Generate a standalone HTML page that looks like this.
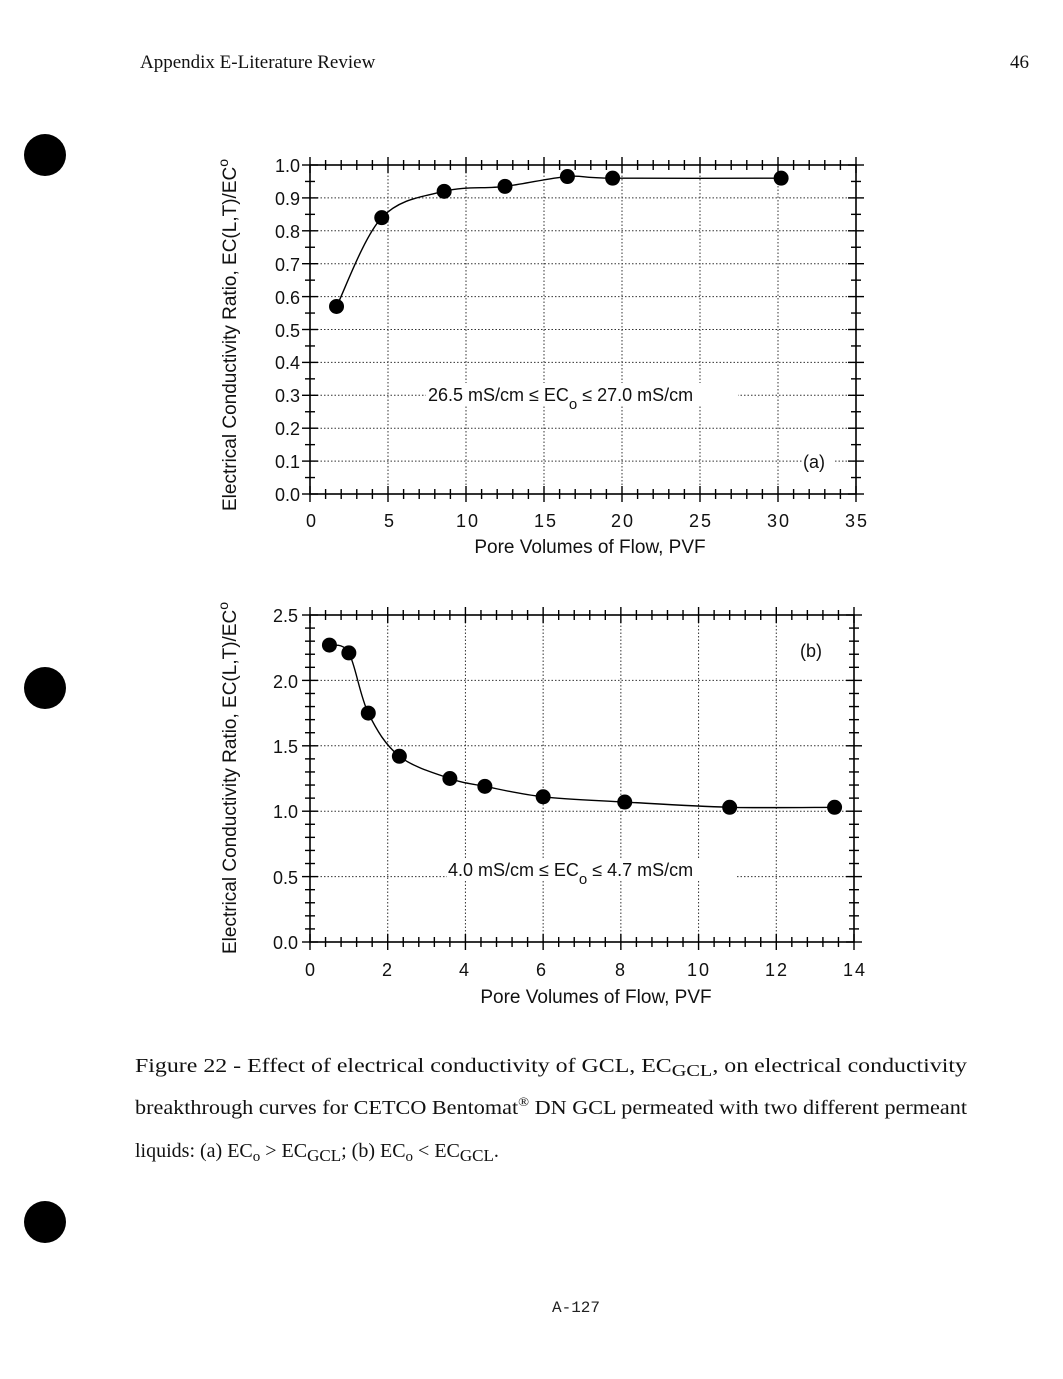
<!DOCTYPE html>
<html><head><meta charset="utf-8"><style>
html,body{margin:0;padding:0;background:#fff;}
svg{display:block}
.h{font-family:"Liberation Serif",serif;font-size:19px;fill:#111}
.c{font-family:"Liberation Serif",serif;font-size:20px;fill:#111}
.t{font-family:"Liberation Sans",sans-serif;font-size:18px;fill:#111}
.a{font-family:"Liberation Sans",sans-serif;font-size:19px;fill:#111}
</style></head><body>
<svg id="s" width="1063" height="1379" viewBox="0 0 1063 1379" xmlns="http://www.w3.org/2000/svg">
<rect width="1063" height="1379" fill="#fff"/>
<text class="h" x="140" y="68">Appendix E-Literature Review</text>
<text class="h" x="1010" y="68">46</text>
<circle cx="45" cy="155" r="21" fill="#000"/>
<circle cx="45" cy="688" r="21" fill="#000"/>
<circle cx="45" cy="1222" r="21" fill="#000"/>
<g id="ga"></g>
<g id="gb"></g>
<g class="t" text-anchor="end">
<text x="300" y="172">1.0</text><text x="300" y="205">0.9</text><text x="300" y="238">0.8</text><text x="300" y="271">0.7</text><text x="300" y="304">0.6</text><text x="300" y="337">0.5</text><text x="300" y="369">0.4</text><text x="300" y="402">0.3</text><text x="300" y="435">0.2</text><text x="300" y="468">0.1</text><text x="300" y="501">0.0</text>
</g>
<g class="t" text-anchor="middle" letter-spacing="2">
<text x="312" y="527">0</text><text x="390" y="527">5</text><text x="468" y="527">10</text><text x="546" y="527">15</text><text x="623" y="527">20</text><text x="701" y="527">25</text><text x="779" y="527">30</text><text x="857" y="527">35</text>
</g>
<text class="a" x="590" y="553" text-anchor="middle">Pore Volumes of Flow, PVF</text>
<text class="a" transform="translate(236,335) rotate(-90)" text-anchor="middle">Electrical Conductivity Ratio, EC(L,T)/EC<tspan dy="-8" font-size="14">o</tspan></text>
<rect x="426" y="383" width="312" height="22" fill="#fff"/>
<text class="t" x="428" y="401">26.5 mS/cm ≤ EC<tspan dy="8" font-size="15">o</tspan><tspan dy="-8"> ≤ 27.0 mS/cm</tspan></text>
<rect x="802" y="451" width="32" height="22" fill="#fff"/>
<text class="t" x="803" y="468">(a)</text>
<g class="t" text-anchor="end">
<text x="298" y="622">2.5</text><text x="298" y="688">2.0</text><text x="298" y="753">1.5</text><text x="298" y="818">1.0</text><text x="298" y="884">0.5</text><text x="298" y="949">0.0</text>
</g>
<g class="t" text-anchor="middle" letter-spacing="2">
<text x="311" y="976">0</text><text x="388" y="976">2</text><text x="465" y="976">4</text><text x="542" y="976">6</text><text x="621" y="976">8</text><text x="699" y="976">10</text><text x="777" y="976">12</text><text x="855" y="976">14</text>
</g>
<text class="a" x="596" y="1003" text-anchor="middle">Pore Volumes of Flow, PVF</text>
<text class="a" transform="translate(236,778) rotate(-90)" text-anchor="middle">Electrical Conductivity Ratio, EC(L,T)/EC<tspan dy="-8" font-size="14">o</tspan></text>
<rect x="447" y="858" width="288" height="22" fill="#fff"/>
<text class="t" x="448" y="876">4.0 mS/cm ≤ EC<tspan dy="8" font-size="15">o</tspan><tspan dy="-8"> ≤ 4.7 mS/cm</tspan></text>
<text class="t" x="800" y="657">(b)</text>
<text class="c" x="135" y="1072" textLength="832" lengthAdjust="spacingAndGlyphs">Figure 22 - Effect of electrical conductivity of GCL, EC<tspan font-size="17" dy="4">GCL</tspan><tspan dy="-4">, on electrical conductivity</tspan></text>
<text class="c" x="135" y="1114" textLength="832" lengthAdjust="spacingAndGlyphs">breakthrough curves for CETCO Bentomat<tspan font-size="13" dy="-8">®</tspan><tspan dy="8"> DN GCL permeated with two different permeant</tspan></text>
<text class="c" x="135" y="1157">liquids: (a) EC<tspan font-size="15" dy="4">o</tspan><tspan dy="-4"> &gt; EC</tspan><tspan font-size="17" dy="4">GCL</tspan><tspan dy="-4">; (b) EC</tspan><tspan font-size="15" dy="4">o</tspan><tspan dy="-4"> &lt; EC</tspan><tspan font-size="17" dy="4">GCL</tspan><tspan dy="-4">.</tspan></text>
<text x="552" y="1312" font-family="Liberation Mono,monospace" font-size="16" fill="#222">A-127</text>
</svg>
<script>
function chart(id,x0,x1,xmax,xmaj,nx,y0,y1,ymax,ymaj,ny,data){
 var g=document.getElementById(id);
 function X(v){return x0+(x1-x0)*v/xmax} function Y(v){return y0-(y0-y1)*v/ymax}
 var s="",i;
 for(i=1;i<xmax/xmaj-0.01;i++){var x=X(i*xmaj);s+='<line x1="'+x+'" x2="'+x+'" y1="'+y1+'" y2="'+y0+'" stroke="#333" stroke-width="1" stroke-dasharray="1.5,2"/>';}
 for(i=1;i<ymax/ymaj-0.01;i++){var y=Y(i*ymaj);s+='<line x1="'+x0+'" x2="'+x1+'" y1="'+y+'" y2="'+y+'" stroke="#333" stroke-width="1" stroke-dasharray="1.5,2"/>';}
 s+='<rect x="'+x0+'" y="'+y1+'" width="'+(x1-x0)+'" height="'+(y0-y1)+'" fill="none" stroke="#000" stroke-width="1.6"/>';
 var NX=Math.round(xmax/xmaj)*nx;
 for(i=0;i<=NX;i++){var L=(i%nx==0)?8:5;var x=X(i*xmaj/nx);
  s+='<line x1="'+x+'" x2="'+x+'" y1="'+(y0-L)+'" y2="'+(y0+L)+'" stroke="#000" stroke-width="1.4"/>';
  s+='<line x1="'+x+'" x2="'+x+'" y1="'+(y1-L)+'" y2="'+(y1+L)+'" stroke="#000" stroke-width="1.4"/>';}
 var NY=Math.round(ymax/ymaj)*ny;
 for(i=0;i<=NY;i++){var L=(i%ny==0)?8:5;var y=Y(i*ymaj/ny);
  s+='<line x1="'+(x0-L)+'" x2="'+(x0+L)+'" y1="'+y+'" y2="'+y+'" stroke="#000" stroke-width="1.4"/>';
  s+='<line x1="'+(x1-L)+'" x2="'+(x1+L)+'" y1="'+y+'" y2="'+y+'" stroke="#000" stroke-width="1.4"/>';}
 var p=data.map(function(d){return [X(d[0]),Y(d[1])]});
 var d="M"+p[0][0]+","+p[0][1];
 for(i=0;i<p.length-1;i++){var a=p[i-1]||p[i],b=p[i],c=p[i+1],e=p[i+2]||c;
  d+=" C"+(b[0]+(c[0]-a[0])/6)+","+(b[1]+(c[1]-a[1])/6)+" "+(c[0]-(e[0]-b[0])/6)+","+(c[1]-(e[1]-b[1])/6)+" "+c[0]+","+c[1];}
 s+='<path d="'+d+'" fill="none" stroke="#000" stroke-width="1.4"/>';
 p.forEach(function(q){s+='<circle cx="'+q[0]+'" cy="'+q[1]+'" r="7.5" fill="#000"/>';});
 g.innerHTML=s;
}
chart("ga",310,856,35,5,5,494,165,1.0,0.1,2,[[1.7,0.57],[4.6,0.84],[8.6,0.92],[12.5,0.935],[16.5,0.965],[19.4,0.96],[30.2,0.96]]);
chart("gb",310,854,14,2,5,942,615,2.5,0.5,5,[[0.5,2.27],[1.0,2.21],[1.5,1.75],[2.3,1.42],[3.6,1.25],[4.5,1.19],[6.0,1.11],[8.1,1.07],[10.8,1.03],[13.5,1.03]]);
</script>
</body></html>
